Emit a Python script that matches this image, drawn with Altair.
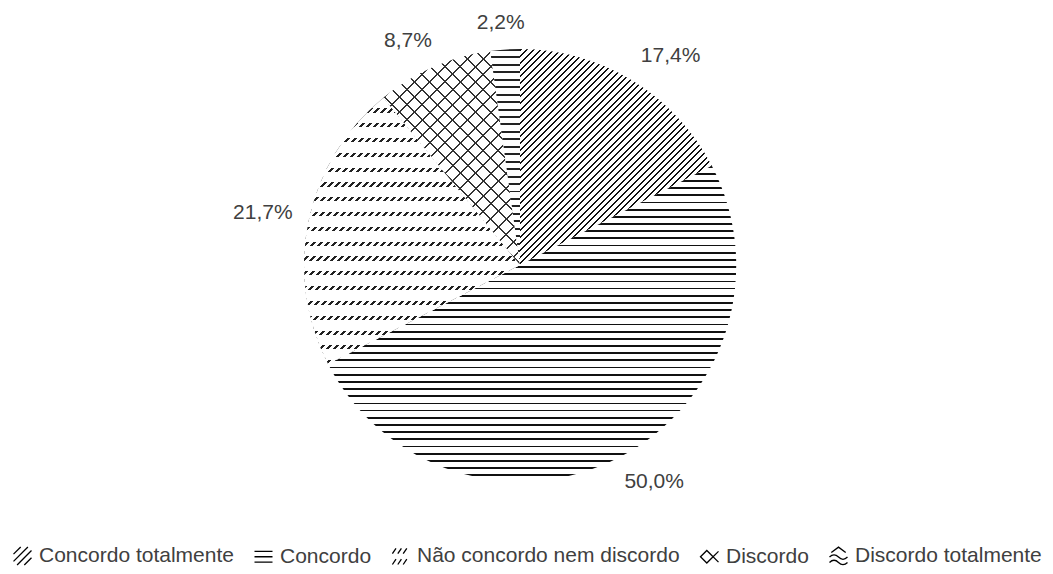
import math
import altair as alt
import pandas as pd

# ---- data -------------------------------------------------------------
categories = ["Concordo totalmente", "Concordo", "Não concordo nem discordo",
              "Discordo", "Discordo totalmente"]
percentages = [17.4, 50.0, 21.7, 8.7, 2.2]
order = [0, 1, 2, 3, 4]

df = pd.DataFrame({"cat": categories, "pct": percentages, "idx": order})
total = sum(percentages)

# ---- styling ----------------------------------------------------------
CX, CY, R = 512, 257, 216
LABEL_GAP = 16
FONT = "Liberation Sans"
TEXT = "#404040"
CLEAR = "rgba(255,255,255,0)"

# hatch styles per slice: (direction, spacing px, ink fraction, ink, background)
styles = [
    [("/", 4.7, 0.30, "#111111", "white")],
    [("h", 7.2, 0.25, "#111111", "white")],
    [("/", 4.95, 0.38, "#222222", "white"), ("h", 14.6, 0.72, "white", CLEAR)],
    [("/", 10.6, 0.13, "#333333", "white"), ("\\", 10.6, 0.13, "#333333", CLEAR)],
    [("h", 7.5, 0.26, "#222222", "white")],
]

symbol_paths = [
    "M-1,-0.2L-0.2,-1M-1,0.6L0.6,-1M-0.6,1L1,-0.6M0.2,1L1,0.2",
    "M-1,-0.6L1,-0.6M-1,0L1,0M-1,0.6L1,0.6",
    "M-0.9,-0.3L-0.5,-0.9M-0.3,-0.3L0.1,-0.9M0.3,-0.3L0.7,-0.9M-0.9,0.9L-0.5,0.3M-0.3,0.9L0.1,0.3M0.3,0.9L0.7,0.3",
    "M-1,0L-0.3,-0.7L0.4,0L-0.3,0.7Z M-0.3,-0.7L1,0.6 M-0.3,0.7L1,-0.6",
    "M-0.8,-0.4L0,-1L0.8,-0.4 M-1,0.1Q-0.5,-0.4 0,0.1T1,0.1 M-1,0.7Q-0.5,0.2 0,0.7T1,0.7",
]


def sector_bbox(a0, a1, r):
    angs = [a0, a1] + [k * math.pi / 2 for k in range(5) if a0 < k * math.pi / 2 < a1]
    xs = [0.0] + [r * math.sin(a) for a in angs]
    ys = [0.0] + [-r * math.cos(a) for a in angs]
    return max(xs) - min(xs), max(ys) - min(ys)


def make_stops(n, frac, ink, bg):
    out = []
    for i in range(n):
        a, b, c = i / n, (i + frac) / n, (i + 1) / n
        out += [
            {"offset": round(a, 5), "color": ink},
            {"offset": round(b, 5), "color": ink},
            {"offset": round(b, 5), "color": bg},
            {"offset": round(c, 5), "color": bg},
        ]
    return out


def hatch(kind, w, h, spacing, frac, ink, bg):
    if kind == "h":
        n = max(1, round(h / spacing))
        coords = dict(x1=0, y1=0, x2=0, y2=1)
    else:
        k = (w + h) / (w * w + h * h)
        n = max(1, round((w + h) / math.sqrt(2) / spacing))
        if kind == "/":
            coords = dict(x1=0, y1=0, x2=k * w, y2=k * h)
        else:
            coords = dict(x1=0, y1=1, x2=k * w, y2=1 - k * h)
    return {"gradient": "linear", **coords, "stops": make_stops(n, frac, ink, bg)}


theta_scale = alt.Scale(domain=[0, total])

base = (
    alt.Chart(df)
    .transform_window(cum="sum(pct)", sort=[alt.SortField("idx")], frame=[None, 0])
    .transform_calculate(start="datum.cum - datum.pct")
    .transform_calculate(mid="datum.cum - datum.pct / 2")
)

layers = []
cum = 0.0
for i, cat in enumerate(categories):
    a0 = 2 * math.pi * cum / total
    cum += percentages[i]
    a1 = 2 * math.pi * cum / total
    w, h = sector_bbox(a0, a1, R)
    for (kind, sp, frac, ink, bg) in styles[i]:
        grad = hatch(kind, w, h, sp, frac, ink, bg)
        layers.append(
            base.transform_filter(alt.datum.cat == cat)
            .mark_arc(outerRadius=R, fill=grad, strokeWidth=0)
            .encode(
                theta=alt.Theta("start:Q", scale=theta_scale),
                theta2="cum:Q",
                x=alt.value(CX),
                y=alt.value(CY),
            )
        )

# data labels: the label box corner sits just outside the pie edge
labels = (
    base.transform_calculate(label="replace(format(datum.pct, '.1f'), '.', ',') + '%'")
    .transform_calculate(ang="datum.mid / %f * 2 * PI" % total)
    .transform_calculate(s="sin(datum.ang)")
    .transform_calculate(c="cos(datum.ang)")
    .transform_calculate(
        px="%d * datum.s + 6 * length(datum.label) * clamp(2 * datum.s, -1, 1)" % (R + LABEL_GAP)
    )
    .transform_calculate(
        py="-%d * datum.c - 11 * clamp(2 * datum.c, -1, 1)" % (R + LABEL_GAP)
    )
    .transform_calculate(lr="sqrt(datum.px * datum.px + datum.py * datum.py)")
    .transform_calculate(
        lt="(atan2(datum.px, -datum.py) / (2 * PI) * %f + %f) %% %f" % (total, total, total)
    )
    .mark_text(font=FONT, fontSize=21, color=TEXT, align="center", baseline="middle")
    .encode(
        theta=alt.Theta("lt:Q", scale=theta_scale),
        radius=alt.Radius("lr:Q", scale=None),
        text="label:N",
        x=alt.value(CX),
        y=alt.value(CY),
    )
)
layers.append(labels)

legend_layer = (
    alt.Chart(df)
    .mark_point(size=324, filled=False, color="black", strokeWidth=1.3)
    .encode(
        shape=alt.Shape(
            "cat:N",
            scale=alt.Scale(domain=categories, range=symbol_paths),
            legend=alt.Legend(
                title=None,
                orient="none",
                legendX=4,
                legendY=537,
                direction="horizontal",
                symbolSize=324,
                symbolStrokeWidth=1.3,
                symbolStrokeColor="black",
                symbolFillColor="transparent",
                symbolOpacity=1,
                labelFont=FONT,
                labelFontSize=21,
                labelColor=TEXT,
                labelOffset=6,
                labelLimit=500,
                columnPadding=17,
            ),
        ),
        x=alt.value(-300),
        y=alt.value(-300),
    )
)
layers.append(legend_layer)

chart = (
    alt.layer(*layers)
    .properties(width=1037, height=558, autosize=alt.AutoSizeParams(type="none"), padding=0)
    .configure_view(stroke=None)
)

chart.save("out.html", embed_options={"renderer": "svg", "actions": False})
